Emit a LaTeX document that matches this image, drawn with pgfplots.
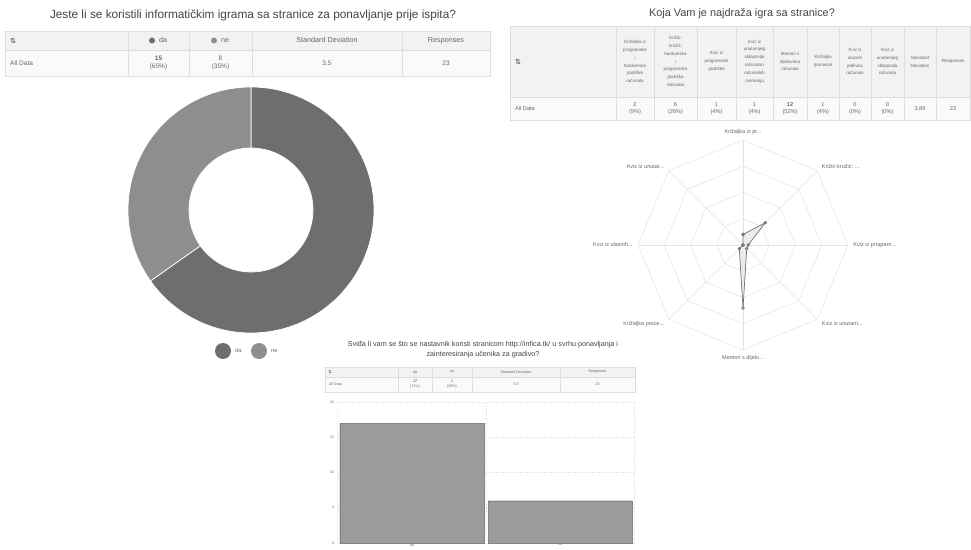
\documentclass[border=0pt]{standalone}
\usepackage{fontspec}
\setmainfont{Liberation Sans}
\newfontfamily\dejavu{DejaVu Sans}
\usepackage{pgfplots}
\pgfplotsset{compat=1.18}
\usepackage{pgfplotstable}
\usepgfplotslibrary{polar}

\definecolor{dacol}{HTML}{6E6E6E}
\definecolor{necol}{HTML}{8E8E8E}
\definecolor{barcol}{HTML}{9B9B9B}
\definecolor{tline}{HTML}{DDDDDD}
\definecolor{headbg}{HTML}{F2F2F2}
\definecolor{rowbg}{HTML}{FAFAFA}
\definecolor{txt}{HTML}{666666}
\definecolor{ttl}{HTML}{444444}
\definecolor{rgrid}{HTML}{E3E3E3}

% question 1: donut
\pgfplotstableread{
cat val
da 15
ne 8
}\donut
% question 2: radar (angle of spoke, count)
\pgfplotstableread{
ang val
90 2
45 6
0 1
-45 1
-90 12
-135 1
180 0
135 0
90 2
}\radar
% question 3: bars
\pgfplotstableread{
x val
0 17
1 6
}\bars

\pgfplotstablegetelem{0}{val}\of\donut \let\vda\pgfplotsretval
\pgfplotstablegetelem{1}{val}\of\donut \let\vne\pgfplotsretval
\pgfmathsetmacro\split{90-360*\vda/(\vda+\vne)}

\begin{document}
\begin{tikzpicture}[x=1pt,y=1pt,
  tl/.style={draw=tline, line width=0.5pt},
  t1/.style={font=\fontsize{6.5}{7.5}\selectfont, text=txt, align=center, inner sep=0pt},
  t1h/.style={t1, font=\fontsize{7.2}{8}\selectfont, text height=5.2pt, text depth=1.5pt},
  t2/.style={font=\fontsize{4.5}{7.8}\selectfont, text=txt, align=center, inner sep=0pt},
  t2d/.style={font=\fontsize{5.6}{7.5}\selectfont, text=txt, align=center, inner sep=0pt},
  t3/.style={font=\fontsize{3.6}{5}\selectfont, text=txt, align=center, inner sep=0pt},
  lab/.style={font=\fontsize{5.5}{6}\selectfont, text=txt, inner sep=0pt}]
\useasboundingbox (0,0) rectangle (971,549);
\fill[white] (0,0) rectangle (971,549);
\coordinate (dc) at (251,339);
\coordinate (rc) at (743,304);
\coordinate (bc) at (337.5,6);

% titles
\node[font=\fontsize{11.8}{13}\selectfont, text=ttl] at (253,534) {Jeste li se koristili informatičkim igrama sa stranice za ponavljanje prije ispita?};
\node[font=\fontsize{10.9}{12}\selectfont, text=ttl] at (742,535) {Koja Vam je najdraža igra sa stranice?};
\node[font=\fontsize{7.2}{9.5}\selectfont, text=ttl, align=center] at (483,199.5) {Sviđa li vam se što se nastavnik koristi stranicom http://infica.tk/ u svrhu ponavljanja i\\zainteresiranja učenika za gradivo?};

% table 1
\fill[headbg] (5,499) rectangle (490,518);
\fill[rowbg] (5,473) rectangle (490,499);
\draw[tl] (5,473) rectangle (490,518) (5,499) -- (490,499);
\foreach \c in {128,189,252,402} \draw[tl] (\c,473) -- (\c,518);
\node[t1, text=ttl, font=\dejavu\fontsize{7}{8}\selectfont] at (13,508.5) {⇅};
\fill[dacol] (152,508.5) circle (3);
\node[t1h, anchor=west] at (159,508.5) {da};
\fill[necol] (214,508.5) circle (3);
\node[t1h, anchor=west] at (221,508.5) {ne};
\node[t1h] at (327,508.5) {Standard Deviation};
\node[t1h] at (446,508.5) {Responses};
\node[t1, anchor=west] at (10,486) {All Data};
\node[t1] at (158.5,486) {\textbf{15}\\(65\%)};
\node[t1] at (220.5,486) {8\\(35\%)};
\node[t1] at (327,486) {3.5};
\node[t1] at (446,486) {23};

% table 2
\fill[headbg] (510,452) rectangle (970,523);
\fill[rowbg] (510,429) rectangle (970,452);
\draw[tl] (510,429) rectangle (970,523) (510,452) -- (970,452);
\foreach \c in {616,654,697,736,773,807,839,871,904,936} \draw[tl] (\c,429) -- (\c,523);
\node[t1, text=ttl, font=\dejavu\fontsize{7}{8}\selectfont] at (518,487.5) {⇅};
\node[t2] at (635,487.5) {Križaljka iz\\programske\\i\\hardverske\\podrške\\računala};
\node[t2] at (675.5,487.5) {Križić-\\kružić:\\hardverska\\i\\programska\\podrška\\računala};
\node[t2] at (716.5,487.5) {Kviz iz\\programske\\podrške};
\node[t2] at (754.5,487.5) {Kviz iz\\unutarnjeg\\sklopovlja\\računala i\\računalnih\\memorija};
\node[t2] at (790,487.5) {Memori s\\dijelovima\\računala};
\node[t2] at (823,487.5) {Križaljka\\procesori};
\node[t2] at (855,487.5) {Kviz iz\\ulaznih\\jedinica\\računala};
\node[t2] at (887.5,487.5) {Kviz iz\\unutarnjeg\\sklopovlja\\računala};
\node[t2] at (920,487.5) {Standard\\Deviation};
\node[t2] at (953,487.5) {Responses};
\node[t2d, anchor=west] at (515,440.5) {All Data};
\node[t2d] at (635,440.5) {2\\(9\%)};
\node[t2d] at (675.5,440.5) {6\\(26\%)};
\node[t2d] at (716.5,440.5) {1\\(4\%)};
\node[t2d] at (754.5,440.5) {1\\(4\%)};
\node[t2d] at (790,440.5) {\textbf{12}\\(52\%)};
\node[t2d] at (823,440.5) {1\\(4\%)};
\node[t2d] at (855,440.5) {0\\(0\%)};
\node[t2d] at (887.5,440.5) {0\\(0\%)};
\node[t2d] at (920,440.5) {3.89};
\node[t2d] at (953,440.5) {23};

% table 3
\fill[headbg] (325,172) rectangle (635,182);
\fill[rowbg] (325,157) rectangle (635,172);
\draw[tl] (325,157) rectangle (635,182) (325,172) -- (635,172);
\foreach \c in {398,432,472,560} \draw[tl] (\c,157) -- (\c,182);
\node[t3, text=ttl, font=\dejavu\fontsize{4}{5}\selectfont] at (330,177) {⇅};
\node[t3] at (415,177) {da};
\node[t3] at (452,177) {ne};
\node[t3] at (516,177) {Standard Deviation};
\node[t3] at (597.5,177) {Responses};
\node[t3, anchor=west] at (329,164.5) {All Data};
\node[t3] at (415,164.5) {\textbf{17}\\(74\%)};
\node[t3] at (452,164.5) {6\\(26\%)};
\node[t3] at (516,164.5) {5.5};
\node[t3] at (597.5,164.5) {23};

% donut
\begin{axis}[at={(dc)}, anchor=center, hide axis, x=1pt, y=1pt,
  xmin=-125, xmax=125, ymin=-125, ymax=125, clip=false]
  \fill[dacol, draw=white, line width=0.7pt] (axis cs:0,123)
    arc[start angle=90, end angle=\split, radius=123pt]
    -- (axis cs:{62*cos(\split)},{62*sin(\split)})
    arc[start angle=\split, end angle=90, radius=62pt] -- cycle;
  \fill[necol, draw=white, line width=0.7pt] (axis cs:{123*cos(\split)},{123*sin(\split)})
    arc[start angle=\split, end angle=-270, radius=123pt]
    -- (axis cs:0,62)
    arc[start angle=-270, end angle=\split, radius=62pt] -- cycle;
\end{axis}
\fill[dacol] (223,198) circle (8);
\node[lab, anchor=west] at (235,198) {da};
\fill[necol] (259,198) circle (8);
\node[lab, anchor=west] at (271,198) {ne};

% radar
\begin{polaraxis}[at={(rc)}, anchor=center, scale only axis,
  width=210pt, height=210pt, hide axis, ymin=0, ymax=20, clip=false]
  \pgfplotsinvokeforeach{5,10,15,20}{
    \addplot[rgrid, line width=0.5pt, no marks] coordinates
      {(90,#1) (45,#1) (0,#1) (-45,#1) (-90,#1) (-135,#1) (180,#1) (135,#1) (90,#1)};
  }
  \pgfplotsinvokeforeach{0,45,90,135,180,225,270,315}{
    \addplot[rgrid, line width=0.5pt, no marks] coordinates {(#1,0) (#1,20)};
  }
  \addplot[draw=black!55, line width=0.7pt, fill=black!8, mark=o,
    mark size=1.3pt, mark options={fill=white}] table[x=ang, y=val] {\radar};
  \node[lab, anchor=south] at (axis cs:90,21) {Križaljka iz pr...};
  \node[lab, anchor=west] at (axis cs:45,21.2) {Križić-kružić: ...};
  \node[lab, anchor=west] at (axis cs:0,21) {Kviz iz program...};
  \node[lab, anchor=west] at (axis cs:-45,21.2) {Kviz iz unutarn...};
  \node[lab, anchor=north] at (axis cs:-90,21) {Memori s dijelo...};
  \node[lab, anchor=east] at (axis cs:-135,21.2) {Križaljka proce...};
  \node[lab, anchor=east] at (axis cs:180,21) {Kviz iz ulaznih...};
  \node[lab, anchor=east] at (axis cs:135,21.2) {Kviz iz unutar...};
\end{polaraxis}

% bars
\begin{axis}[at={(bc)}, anchor=south west, scale only axis,
  width=297pt, height=141pt, xmin=-0.5, xmax=1.5, ymin=0, ymax=20,
  ytick={0,5,10,15,20}, xtick={0,1}, xticklabels={da,ne},
  axis line style={draw=none}, major tick length=0pt,
  ymajorgrids, grid style={dotted, line width=0.5pt, black!15},
  extra x ticks={0.5,1.5}, extra x tick labels={},
  extra x tick style={grid=major},
  tick label style={font=\fontsize{3.5}{4}\selectfont, text=txt},
  xticklabel style={inner sep=0.5pt},
  /pgf/number format/assume math mode=true,
  ybar, bar width=0.97]
  \draw[black!12, line width=0.5pt] (axis cs:-0.5,0) -- (axis cs:-0.5,20);
  \addplot[fill=barcol, draw=barcol!85!black, line width=0.3pt] table[x=x, y=val] {\bars};
\end{axis}
\end{tikzpicture}
\end{document}
